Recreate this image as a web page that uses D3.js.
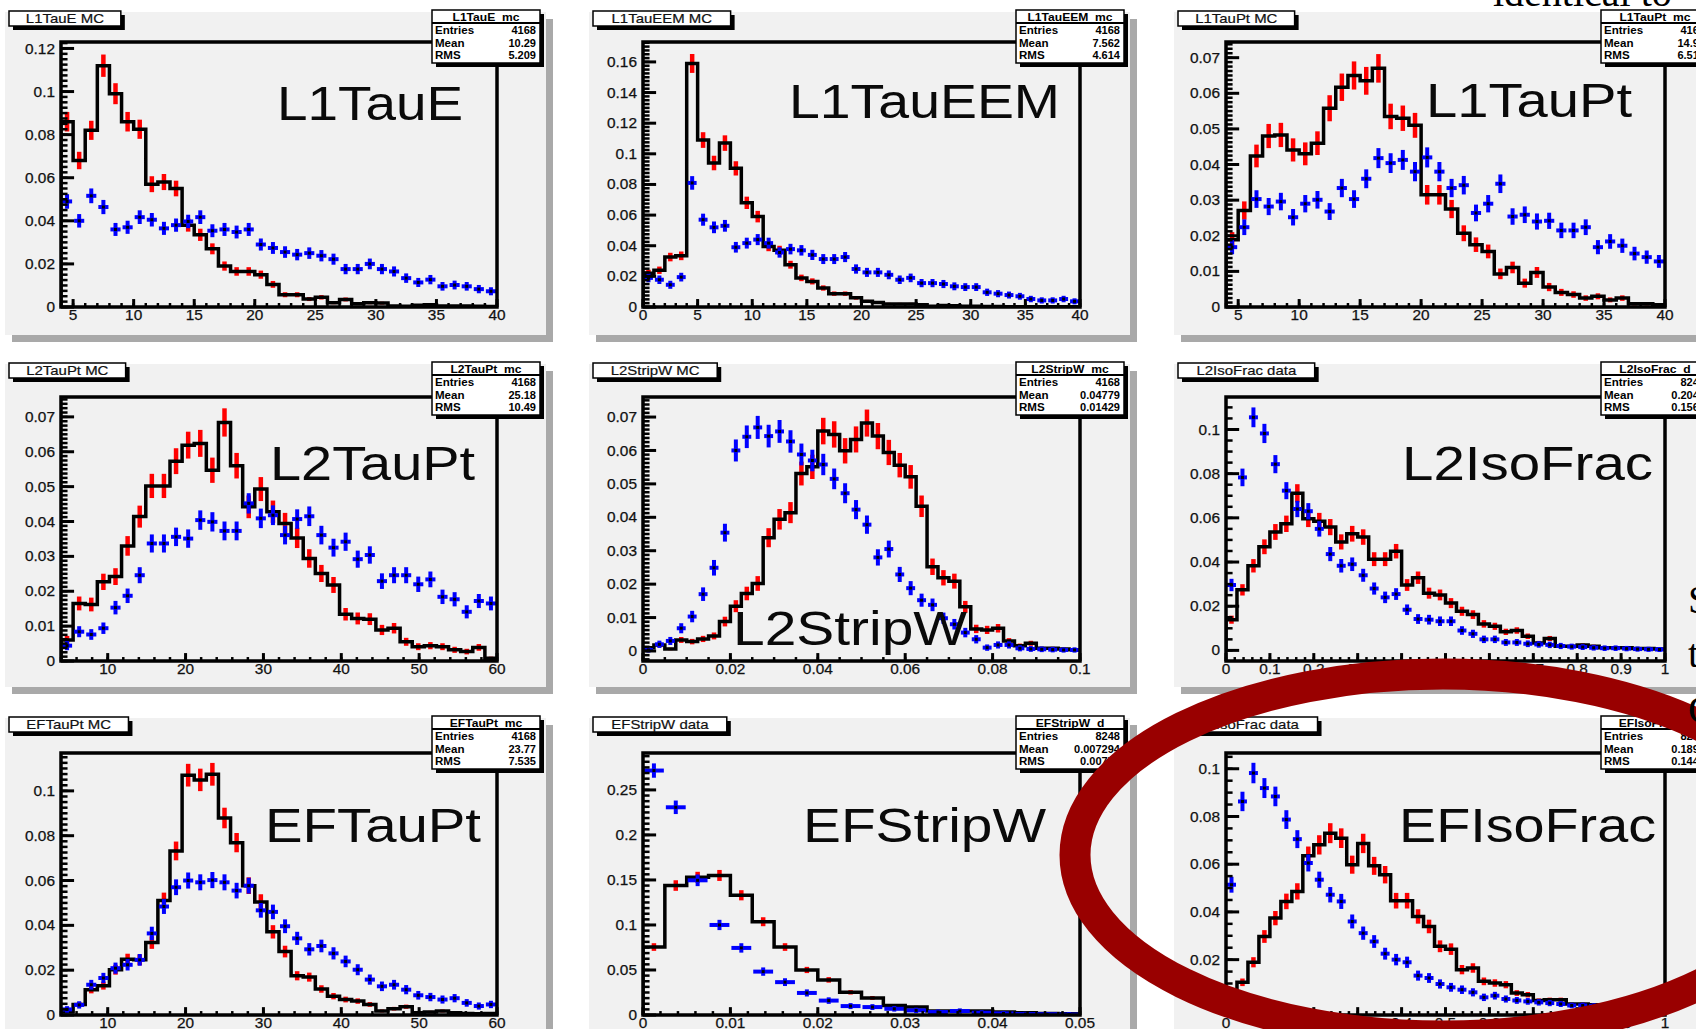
<!DOCTYPE html>
<html>
<head>
<meta charset="utf-8">
<script src="https://cdn.jsdelivr.net/npm/d3@7"></script>
<style>
  body { margin: 0; background: #fff; overflow: hidden; }
  text { font-family: "Liberation Sans", Arial, Helvetica, sans-serif; }
  text.slide { font-family: "Liberation Serif", "Times New Roman", serif; }
</style>
</head>
<body>
<div id="main"></div>
<script>
//////////
// DATA //
//////////

const histNames = ["L1TauE", "L1TauEEM", "L1TauPt", "L2TauPt", "L2StripW", "L2IsoFrac", "EFTauPt", "EFStripW", "EFIsoFrac"]
const padTitles = ["L1TauE MC", "L1TauEEM MC", "L1TauPt MC", "L2TauPt MC", "L2StripW MC", "L2IsoFrac data", "EFTauPt MC", "EFStripW data", "EFIsoFrac data"]
const statNames = ["L1TauE_mc", "L1TauEEM_mc", "L1TauPt_mc", "L2TauPt_mc", "L2StripW_mc", "L2IsoFrac_d", "EFTauPt_mc", "EFStripW_d", "EFIsoFrac_d"]
const statEntries = ["4168", "4168", "4168", "4168", "4168", "8248", "4168", "8248", "8248"]
const statMeans = ["10.29", "7.562", "14.92", "25.18", "0.04779", "0.2046", "23.77", "0.007294", "0.1894"]
const statRMS = ["5.209", "4.614", "6.519", "10.49", "0.01429", "0.1566", "7.535", "0.00771", "0.1448"]

// entries used for the sqrt(N) error bars
const mcEntries = 4168
const dataEntries = 8248

const xRanges = [[4, 40], [0, 40], [4, 40], [4, 60], [0, 0.1], [0, 1], [4, 60], [0, 0.05], [0, 1]]
const yRanges = [[0, 0.123], [0, 0.173], [0, 0.0744], [0, 0.0757], [-0.003, 0.076], [-0.0048, 0.1147], [0, 0.1169], [0, 0.291], [-0.0032, 0.1066]]

const xTicks = [
    [5, 10, 15, 20, 25, 30, 35, 40]
  , [0, 5, 10, 15, 20, 25, 30, 35, 40]
  , [5, 10, 15, 20, 25, 30, 35, 40]
  , [10, 20, 30, 40, 50, 60]
  , [0, 0.02, 0.04, 0.06, 0.08, 0.1]
  , [0, 0.1, 0.2, 0.3, 0.4, 0.5, 0.6, 0.7, 0.8, 0.9, 1]
  , [10, 20, 30, 40, 50, 60]
  , [0, 0.01, 0.02, 0.03, 0.04, 0.05]
  , [0, 0.1, 0.2, 0.3, 0.4, 0.5, 0.6, 0.7, 0.8, 0.9, 1]
]
const yTicks = [
    [0, 0.02, 0.04, 0.06, 0.08, 0.1, 0.12]
  , [0, 0.02, 0.04, 0.06, 0.08, 0.1, 0.12, 0.14, 0.16]
  , [0, 0.01, 0.02, 0.03, 0.04, 0.05, 0.06, 0.07]
  , [0, 0.01, 0.02, 0.03, 0.04, 0.05, 0.06, 0.07]
  , [0, 0.01, 0.02, 0.03, 0.04, 0.05, 0.06, 0.07]
  , [0, 0.02, 0.04, 0.06, 0.08, 0.1]
  , [0, 0.02, 0.04, 0.06, 0.08, 0.1]
  , [0, 0.05, 0.1, 0.15, 0.2, 0.25]
  , [0, 0.02, 0.04, 0.06, 0.08, 0.1]
]

// MC (black line + red errors) and data (blue crosses), normalised bin contents
const l1TauE_mc = [0.086, 0.068, 0.082, 0.112, 0.099, 0.086, 0.0825, 0.057, 0.058, 0.055, 0.038, 0.0335, 0.027, 0.019, 0.0165, 0.0165, 0.015, 0.0105, 0.0057, 0.0057, 0.0037, 0.0045, 0.002, 0.0035, 0.0015, 0.002, 0.0018, 0.0005, 0.0003, 0.0008, 0.001, 0.0005, 0.0005, 0.0005, 0.0003, 0.0002]
const l1TauE_data = [0.049, 0.040, 0.0516, 0.0464, 0.036, 0.037, 0.0417, 0.0405, 0.0365, 0.038, 0.0397, 0.0417, 0.0354, 0.036, 0.0348, 0.036, 0.029, 0.0274, 0.0255, 0.0243, 0.025, 0.0238, 0.0222, 0.0176, 0.0176, 0.020, 0.0176, 0.0165, 0.0134, 0.0114, 0.0127, 0.0096, 0.0102, 0.0096, 0.0083, 0.0073]

const l1TauEEM_mc = [0.022, 0.024, 0.0326, 0.0334, 0.159, 0.109, 0.094, 0.107, 0.0905, 0.068, 0.059, 0.0395, 0.037, 0.0276, 0.019, 0.0167, 0.0124, 0.0087, 0.0087, 0.006, 0.0037, 0.003, 0.002, 0.002, 0.002, 0.0015, 0.0005, 0.001, 0.0008, 0.0005, 0.0005, 0.0003, 0.0003, 0.0002, 0.0002, 0.0002, 0.0001, 0.0001, 0.0001, 0.0001]
const l1TauEEM_data = [0.019, 0.0178, 0.0145, 0.0195, 0.081, 0.057, 0.052, 0.053, 0.039, 0.0417, 0.044, 0.0417, 0.0356, 0.0378, 0.037, 0.034, 0.0313, 0.0313, 0.0326, 0.0248, 0.0226, 0.0226, 0.021, 0.0178, 0.019, 0.0156, 0.0156, 0.015, 0.0135, 0.013, 0.013, 0.0096, 0.0087, 0.0078, 0.007, 0.0052, 0.0043, 0.0043, 0.0052, 0.0037]

const l1TauPt_mc = [0.0189, 0.0271, 0.0424, 0.048, 0.0483, 0.0441, 0.043, 0.046, 0.0558, 0.0617, 0.065, 0.0635, 0.067, 0.0535, 0.053, 0.051, 0.0315, 0.0315, 0.0275, 0.0207, 0.0175, 0.0156, 0.0093, 0.0111, 0.0067, 0.0097, 0.0056, 0.0041, 0.0035, 0.0025, 0.003, 0.002, 0.0025, 0.0009, 0.0009, 0.0006]
const l1TauPt_data = [0.0168, 0.0224, 0.0303, 0.0282, 0.0296, 0.0252, 0.029, 0.0301, 0.0268, 0.0334, 0.0303, 0.036, 0.0418, 0.0404, 0.0413, 0.038, 0.042, 0.038, 0.0334, 0.0342, 0.0264, 0.029, 0.0346, 0.0254, 0.0259, 0.024, 0.0242, 0.0215, 0.0215, 0.0224, 0.0168, 0.0184, 0.0172, 0.015, 0.014, 0.0128]

const l2TauPt_mc = [0.006, 0.0165, 0.0162, 0.0227, 0.0242, 0.033, 0.0414, 0.0502, 0.0502, 0.0573, 0.0619, 0.0624, 0.0547, 0.0684, 0.056, 0.0442, 0.0493, 0.0428, 0.0394, 0.0353, 0.0294, 0.0251, 0.0218, 0.0134, 0.0122, 0.012, 0.0089, 0.0094, 0.0055, 0.0041, 0.0044, 0.0041, 0.0032, 0.0027, 0.0039, 0.0008]
const l2TauPt_data = [0.0044, 0.0084, 0.0076, 0.0094, 0.0153, 0.0187, 0.0246, 0.0337, 0.0337, 0.0356, 0.0351, 0.0404, 0.0399, 0.0373, 0.0373, 0.0452, 0.0409, 0.0418, 0.0361, 0.0407, 0.0415, 0.0361, 0.0325, 0.0342, 0.0292, 0.0304, 0.0229, 0.0246, 0.0246, 0.022, 0.0234, 0.0184, 0.0177, 0.0141, 0.0172, 0.0165]

const l2StripW_mc = [0.001, 0.0018, 0.0006, 0.0033, 0.0028, 0.0036, 0.0045, 0.0088, 0.0134, 0.0172, 0.0202, 0.0339, 0.0394, 0.0414, 0.0531, 0.0551, 0.0658, 0.0648, 0.0599, 0.0633, 0.0682, 0.0643, 0.0594, 0.0556, 0.0521, 0.0433, 0.0252, 0.0219, 0.0209, 0.0132, 0.0066, 0.0063, 0.0068, 0.003, 0.0016, 0.0023, 0.0008, 0.0008, 0.0006, 0.0004]
const l2StripW_data = [0.0003, 0.002, 0.003, 0.0068, 0.0103, 0.017, 0.0249, 0.0354, 0.06, 0.0641, 0.0669, 0.0643, 0.0657, 0.0627, 0.0588, 0.057, 0.0558, 0.0515, 0.0472, 0.0423, 0.0378, 0.028, 0.0305, 0.0229, 0.0188, 0.0152, 0.0138, 0.0098, 0.008, 0.0055, 0.0035, 0.001, 0.0018, 0.0018, 0.0008, 0.0006, 0.0005, 0.0004, 0.0003, 0.0003]

const l2IsoFrac_mc = [0.0139, 0.0274, 0.0383, 0.0469, 0.0536, 0.0573, 0.0711, 0.0596, 0.0585, 0.0558, 0.0491, 0.0528, 0.0513, 0.0413, 0.0413, 0.0449, 0.0296, 0.0329, 0.0259, 0.0251, 0.0214, 0.0177, 0.0162, 0.012, 0.0109, 0.0084, 0.009, 0.0064, 0.0034, 0.0054, 0.0019, 0.0019, 0.0024, 0.0019, 0.0012, 0.0012, 0.0012, 0.0009, 0.0009, 0.0006]
const l2IsoFrac_data = [0.0296, 0.0783, 0.1055, 0.0982, 0.0843, 0.0723, 0.064, 0.063, 0.055, 0.0436, 0.0383, 0.039, 0.034, 0.028, 0.024, 0.0255, 0.0184, 0.0142, 0.0139, 0.0132, 0.0132, 0.009, 0.0075, 0.005, 0.005, 0.0036, 0.0036, 0.003, 0.0027, 0.0025, 0.002, 0.0017, 0.0015, 0.0012, 0.001, 0.001, 0.0008, 0.0006, 0.0005, 0.0004]

const efTauPt_mc = [0.0015, 0.0047, 0.0113, 0.0131, 0.0202, 0.0249, 0.0246, 0.0323, 0.0511, 0.0732, 0.107, 0.1049, 0.1074, 0.0879, 0.0769, 0.0577, 0.0504, 0.0371, 0.0283, 0.0175, 0.0169, 0.0116, 0.0084, 0.0069, 0.0062, 0.0047, 0.0018, 0.0028, 0.0037, 0.001, 0.0013, 0.0018, 0.001, 0.0007, 0.0006, 0.0007]
const efTauPt_data = [0.0025, 0.0045, 0.0135, 0.0165, 0.0209, 0.0224, 0.0246, 0.0364, 0.0484, 0.057, 0.06, 0.0592, 0.0602, 0.0592, 0.0555, 0.0577, 0.0467, 0.046, 0.0396, 0.0342, 0.0293, 0.0308, 0.0275, 0.0239, 0.0202, 0.0158, 0.0128, 0.0135, 0.0113, 0.0088, 0.008, 0.0069, 0.0075, 0.0054, 0.004, 0.0047]

const efStripW_mc = [0.0755, 0.1438, 0.153, 0.155, 0.133, 0.1036, 0.0755, 0.05, 0.039, 0.0252, 0.019, 0.0106, 0.0088, 0.0044, 0.0044, 0.0044, 0.0033, 0.0025, 0.0018, 0.0015]
const efStripW_data = [0.2715, 0.2307, 0.1496, 0.1, 0.0745, 0.0482, 0.0365, 0.0245, 0.016, 0.0099, 0.0088, 0.0069, 0.0051, 0.0033, 0.0044, 0.0025, 0.0018, 0.001, 0.0008, 0.0005]

const efIsoFrac_mc = [0.0053, 0.0105, 0.0189, 0.0297, 0.0374, 0.0444, 0.0486, 0.0635, 0.0681, 0.073, 0.0709, 0.0598, 0.0687, 0.0593, 0.0556, 0.0447, 0.0447, 0.0381, 0.0339, 0.0256, 0.0244, 0.0158, 0.0165, 0.0109, 0.0102, 0.0095, 0.006, 0.0053, 0.0029, 0.0032, 0.0032, 0.0014, 0.0014, 0.0011, 0.0011, 0.0007, 0.001, 0.0007, 0.0006, 0.0004]
const efIsoFrac_data = [0.0514, 0.0863, 0.0982, 0.0919, 0.0884, 0.0787, 0.0705, 0.0605, 0.0535, 0.0472, 0.0444, 0.036, 0.0311, 0.0276, 0.0225, 0.02, 0.0189, 0.0133, 0.0123, 0.0098, 0.0084, 0.0074, 0.0063, 0.0042, 0.0049, 0.0035, 0.0029, 0.0025, 0.0021, 0.0018, 0.0014, 0.0008, 0.0008, 0.0006, 0.0006, 0.0005, 0.0004, 0.0004, 0.0003, 0.0003]

const mcHists = [l1TauE_mc, l1TauEEM_mc, l1TauPt_mc, l2TauPt_mc, l2StripW_mc, l2IsoFrac_mc, efTauPt_mc, efStripW_mc, efIsoFrac_mc]
const dataHists = [l1TauE_data, l1TauEEM_data, l1TauPt_data, l2TauPt_data, l2StripW_data, l2IsoFrac_data, efTauPt_data, efStripW_data, efIsoFrac_data]

// slide text around the plots
const slideTop = "identical to"
const slideSide = ["S", "t", "C"]


///////////
// SETUP //
///////////

const width = 1696
const height = 1029

// COLORS
const black = '#000000'
const red = '#ff0000'
const blue = '#0000ff'
const padGray = '#f1f1f1'
const shadowGray = '#a9a9a9'
const ringRed = '#990000'

// LAYOUT
const colX = [5, 589, 1174]
const rowY = [12, 364, 718]
const padW = 541, padH = 323
const frameX = [[61, 497], [643, 1080], [1226, 1665]]
const frameY = [[42, 307], [397, 661], [753, 1015]]
const xMinor = [5, 5, 5, 5, 4, 5, 5, 5, 5]
const yMinor = [8, 8, 8, 8, 8, 4, 8, 8, 4]
// big label: x, baseline, width
const labelPos = [[277, 120, 186], [789, 118, 271], [1426, 117, 206], [270, 480, 205], [733, 645, 234], [1402, 480, 251], [265, 842, 216], [803, 842, 243], [1399, 842, 257]]

let fmt = v => v === 0 ? "0" : String(+v.toFixed(4))

let svg = d3.select("#main").append("svg")
    .attr("width", width)
    .attr("height", height)

svg.append("rect").attr("width", width).attr("height", height).attr("fill", "#fff")
let defs = svg.append("defs")


//////////
// DRAW //
//////////

histNames.forEach((label, i) => draw_panel(i, label))
draw_slide()

function stretch(sel, k) {
	sel.each(function() {
		let len = this.getComputedTextLength()
		d3.select(this).attr("textLength", len * k).attr("lengthAdjust", "spacingAndGlyphs")
	})
}

function minor_ticks(ticks, n, domain) {
	let step = (ticks[1] - ticks[0]) / n
	let start = ticks[0] - Math.floor((ticks[0] - domain[0]) / step + 1e-6) * step
	let out = []
	for (let v = start; v <= domain[1] + 1e-9; v += step) out.push(v)
	return out
}

function draw_panel(i, label) {
	let col = i % 3, row = Math.floor(i / 3)
	let px = colX[col], py = rowY[row]
	let [x0, x1] = frameX[col]
	let [y0, y1] = frameY[row]
	let mc = mcHists[i], data = dataHists[i]
	let xr = xRanges[i]

	let g = svg.append("g")

	// pad + shadow
	g.append("rect").attr("x", px + 7).attr("y", py + 7).attr("width", padW).attr("height", padH).attr("fill", shadowGray)
	g.append("rect").attr("x", px).attr("y", py).attr("width", padW).attr("height", padH).attr("fill", padGray)

	let x = d3.scaleLinear().domain(xr).range([x0, x1])
	let y = d3.scaleLinear().domain(yRanges[i]).range([y1, y0])

	let n = mc.length
	let bw = (xr[1] - xr[0]) / n
	let lo = k => xr[0] + k * bw
	let mid = k => xr[0] + (k + 0.5) * bw

	defs.append("clipPath").attr("id", "clip" + i)
		.append("rect").attr("x", x0).attr("y", y0).attr("width", x1 - x0).attr("height", y1 - y0)
	let plot = g.append("g").attr("clip-path", `url(#clip${i})`)

	// red errors of MC
	plot.append("g").selectAll("line").data(mc).enter().append("line")
		.attr("x1", (d, k) => x(mid(k)))
		.attr("x2", (d, k) => x(mid(k)))
		.attr("y1", d => y(d + Math.sqrt(d / mcEntries)))
		.attr("y2", d => y(d - Math.sqrt(d / mcEntries)))
		.attr("stroke", red)
		.attr("stroke-width", 4.5)

	// black hist line
	let pts = [[x(lo(0)), y(0)]]
	mc.forEach((v, k) => {
		pts.push([x(lo(k)), y(v)])
		pts.push([x(lo(k + 1)), y(v)])
	})
	pts.push([x(lo(n)), y(0)])
	plot.append("path")
		.attr("d", d3.line()(pts))
		.attr("fill", "none")
		.attr("stroke", black)
		.attr("stroke-width", 3.5)
		.attr("stroke-linejoin", "miter")

	// blue data crosses
	let cross = plot.append("g").selectAll("g").data(data).enter().append("g")
	cross.append("line")
		.attr("x1", (d, k) => x(lo(k)) + 1)
		.attr("x2", (d, k) => x(lo(k + 1)) - 1)
		.attr("y1", d => y(d)).attr("y2", d => y(d))
		.attr("stroke", blue).attr("stroke-width", 4)
	cross.append("line")
		.attr("x1", (d, k) => x(mid(k))).attr("x2", (d, k) => x(mid(k)))
		.attr("y1", d => y(d + Math.sqrt(d / dataEntries)) - 2)
		.attr("y2", d => y(d - Math.sqrt(d / dataEntries)) + 2)
		.attr("stroke", blue).attr("stroke-width", 4)
	cross.append("rect")
		.attr("x", (d, k) => x(mid(k)) - 1.5).attr("y", d => y(d) - 1.5)
		.attr("width", 3).attr("height", 3).attr("fill", black)

	// big label, over the marks
	let [lx, ly, lw] = labelPos[i]
	g.append("text").attr("x", lx).attr("y", ly)
		.attr("font-size", 48).attr("fill", "#0a0a0a")
		.attr("textLength", lw).attr("lengthAdjust", "spacingAndGlyphs")
		.text(label)

	// frame and ticks
	let axis = g.append("g").attr("stroke", black)
	let yLen = 0.03 * (x1 - x0), xLen = 0.03 * (y1 - y0)
	minor_ticks(yTicks[i], yMinor[i], yRanges[i]).forEach(v => {
		axis.append("line").attr("x1", x0).attr("x2", x0 + yLen / 2).attr("y1", y(v)).attr("y2", y(v)).attr("stroke-width", 2.5)
	})
	yTicks[i].forEach(v => {
		axis.append("line").attr("x1", x0).attr("x2", x0 + yLen).attr("y1", y(v)).attr("y2", y(v)).attr("stroke-width", 3)
	})
	minor_ticks(xTicks[i], xMinor[i], xr).forEach(v => {
		axis.append("line").attr("x1", x(v)).attr("x2", x(v)).attr("y1", y1).attr("y2", y1 - xLen / 2).attr("stroke-width", 2.5)
	})
	xTicks[i].forEach(v => {
		axis.append("line").attr("x1", x(v)).attr("x2", x(v)).attr("y1", y1).attr("y2", y1 - xLen).attr("stroke-width", 3)
	})
	axis.append("rect").attr("x", x0).attr("y", y0).attr("width", x1 - x0).attr("height", y1 - y0)
		.attr("fill", "none").attr("stroke-width", 3.5)

	// tick labels
	let yl = g.append("g").selectAll("text").data(yTicks[i]).enter().append("text")
		.attr("x", x0 - 6).attr("y", d => y(d)).attr("dy", "0.36em")
		.attr("text-anchor", "end").attr("font-size", 14).attr("fill", "#111")
		.attr("stroke", "#111").attr("stroke-width", 0.25)
		.text(fmt)
	stretch(yl, 1.1)
	let xl = g.append("g").selectAll("text").data(xTicks[i]).enter().append("text")
		.attr("x", d => x(d)).attr("y", y1 + 13)
		.attr("text-anchor", "middle").attr("font-size", 14).attr("fill", "#111")
		.attr("stroke", "#111").attr("stroke-width", 0.25)
		.text(fmt)
	stretch(xl, 1.1)

	// title box
	let tb = g.append("g")
	let tt = tb.append("text").attr("x", px + 16).attr("y", py + 11)
		.attr("font-size", 13).attr("fill", "#111")
		.attr("stroke", "#111").attr("stroke-width", 0.2)
		.text(padTitles[i])
	stretch(tt, 1.15)
	let tw = tt.node().getComputedTextLength() * 1.15 + 22
	tb.insert("rect", "text").attr("x", px + 8).attr("y", py + 3).attr("width", tw).attr("height", 15).attr("fill", black)
	tb.insert("rect", "text").attr("x", px + 4).attr("y", py - 1).attr("width", tw).attr("height", 15)
		.attr("fill", "#fff").attr("stroke", black).attr("stroke-width", 1.5)
	tt.attr("x", px + 4 + tw / 2).attr("text-anchor", "middle")

	// stats box
	let sx = px + padW - 114, sy = py - 2, sw = 108, sh = 53
	let sb = g.append("g")
	sb.append("rect").attr("x", sx + 4).attr("y", sy + 4).attr("width", sw).attr("height", sh).attr("fill", black)
	sb.append("rect").attr("x", sx).attr("y", sy).attr("width", sw).attr("height", sh)
		.attr("fill", "#fff").attr("stroke", black).attr("stroke-width", 1.5)
	sb.append("line").attr("x1", sx).attr("x2", sx + sw).attr("y1", sy + 13).attr("y2", sy + 13)
		.attr("stroke", black).attr("stroke-width", 2)
	let hd = sb.append("text").attr("x", sx + sw / 2).attr("y", sy + 11)
		.attr("text-anchor", "middle").attr("font-size", 11).attr("font-weight", "bold").text(statNames[i])
	stretch(hd, 1.1)
	let rows = [["Entries", statEntries[i]], ["Mean", statMeans[i]], ["RMS", statRMS[i]]]
	rows.forEach((r, k) => {
		let a = sb.append("text").attr("x", sx + 3).attr("y", sy + 24 + k * 12.5)
			.attr("font-size", 10.5).attr("font-weight", "bold").text(r[0])
		let b = sb.append("text").attr("x", sx + sw - 4).attr("y", sy + 24 + k * 12.5)
			.attr("text-anchor", "end").attr("font-size", 10.5).attr("font-weight", "bold").text(r[1])
		stretch(a, 1.1)
		stretch(b, 1.05)
	})
}

function draw_slide() {
	// big red ring drawn over the last panels
	svg.append("ellipse")
		.attr("cx", 1443).attr("cy", 855)
		.attr("rx", 368).attr("ry", 181)
		.attr("fill", "none")
		.attr("stroke", ringRed)
		.attr("stroke-width", 31)

	svg.append("text").attr("class", "slide")
		.attr("x", 1493).attr("y", 6)
		.attr("font-size", 40).attr("fill", black)
		.text(slideTop)

	svg.selectAll("text.side").data(slideSide).enter().append("text")
		.attr("class", "slide side")
		.attr("x", 1688)
		.attr("y", (d, k) => [613, 667, 723][k])
		.attr("font-size", 40).attr("fill", black)
		.text(d => d)
}
</script>
</body>
</html>
